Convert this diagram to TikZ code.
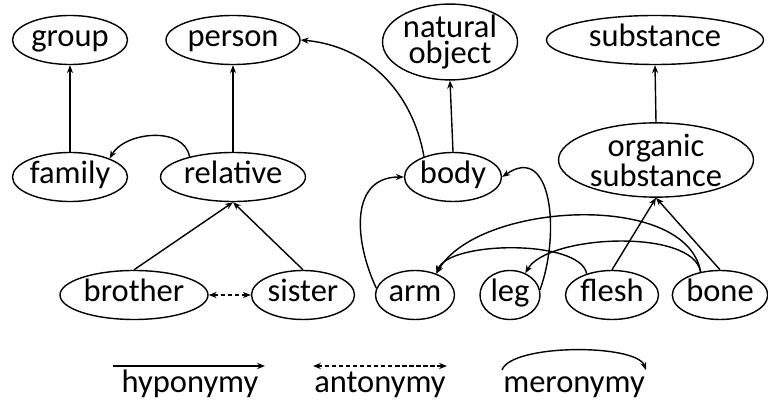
\documentclass[tikz,border=0pt]{standalone}
\usepackage{fontspec}
\setmainfont{Carlito}
\usetikzlibrary{arrows.meta, positioning, shapes.geometric}

\begin{document}
\begin{tikzpicture}[
    concept/.style={ellipse, draw, line width=0.8pt, inner sep=0pt,
                    minimum width=#1, minimum height=0.98cm, align=center,
                    font=\fontsize{18.5}{14.5}\selectfont},
    word/.style={concept=#1, text height=0.84em, text depth=0.1em},
    hypo/.style={-{Stealth[length=4.5pt, width=3.5pt]}, line width=0.8pt},
    mero/.style={-{Stealth[length=4.5pt, width=3.5pt]}, line width=0.8pt},
    anto/.style={{Stealth[length=4.5pt, width=3.5pt]}-{Stealth[length=4.5pt, width=3.5pt]},
                 line width=0.8pt, dash pattern=on 2.5pt off 1.5pt},
    legend/.style={font=\fontsize{18.5}{14}\selectfont, anchor=base, inner sep=0pt},
  ]
    \useasboundingbox (0,0) rectangle (15.36,8);

    % top row
    \node[word=2.30cm] (group) at (1.40,7.20) {group};
    \node[word=2.68cm] (person) at (4.66,7.20) {person};
    \node[concept=2.70cm, minimum height=1.38cm] (natobj) at (9.00,7.16) {natural\\object};
    \node[word=4.34cm] (substance) at (13.10,7.20) {substance};

    % middle row
    \node[word=2.30cm] (family) at (1.40,4.46) {family};
    \node[word=2.90cm] (relative) at (4.66,4.46) {relative};
    \node[word=1.94cm] (body) at (9.06,4.46) {body};
    \node[concept=3.90cm, minimum height=1.34cm] (organic) at (13.12,4.80) {organic\\substance};

    % bottom row
    \node[word=2.96cm] (brother) at (2.68,2.10) {brother};
    \node[word=2.06cm] (sister) at (6.06,2.10) {sister};
    \node[word=1.58cm] (arm) at (8.30,2.10) {arm};
    \node[word=1.20cm] (leg) at (10.20,2.10) {leg};
    \node[word=1.86cm] (flesh) at (12.24,2.10) {flesh};
    \node[word=1.86cm] (bone) at (14.40,2.10) {bone};

    % hyponymy
    \draw[hypo] (family.north) -- (group.south);
    \draw[hypo] (relative.north) -- (person.south);
    \draw[hypo] (brother.north) -- (relative.south);
    \draw[hypo] (sister.north) -- (relative.south);
    \draw[hypo] (body.north) -- (natobj.south);
    \draw[hypo] (body.145) to[out=100, in=-5] (person.east);
    \draw[hypo] (organic.north) -- (substance.south);
    \draw[hypo] (flesh.north) -- (organic.south);
    \draw[hypo] (bone.north) -- (organic.south);

    % antonymy
    \draw[anto] (brother.east) -- (sister.west);

    % meronymy
    \draw[mero] (relative.155) to[out=100, in=60] (family.25);
    \draw[mero] (arm.170) to[out=115, in=180, looseness=1.2] (body.west);
    \draw[mero] (leg.10) to[out=70, in=35, looseness=1.3] (body.east);
    \draw[mero] (flesh.140) to[out=100, in=70, looseness=0.6] (arm.45);
    \draw[mero] (bone.130) to[out=100, in=60, looseness=0.8] (arm.45);
    \draw[mero] (bone.130) to[out=100, in=60, looseness=0.65] (leg.55);

    % legend
    \coordinate (hypA) at (2.26,0.68);
    \coordinate (hypB) at (5.30,0.68);
    \coordinate (antA) at (6.26,0.68);
    \coordinate (antB) at (8.94,0.68);
    \coordinate (merA) at (10.04,0.60);
    \coordinate (merB) at (12.92,0.60);
    \draw[hypo] (hypA) -- (hypB);
    \draw[anto] (antA) -- (antB);
    \draw[mero] (merA) to[out=70, in=110, looseness=0.5] (merB);
    \node[legend] (hypText) at (3.80,0.15) {hyponymy};
    \node[legend] (antText) at (7.60,0.15) {antonymy};
    \node[legend] (merText) at (11.48,0.15) {meronymy};
\end{tikzpicture}
\end{document}
